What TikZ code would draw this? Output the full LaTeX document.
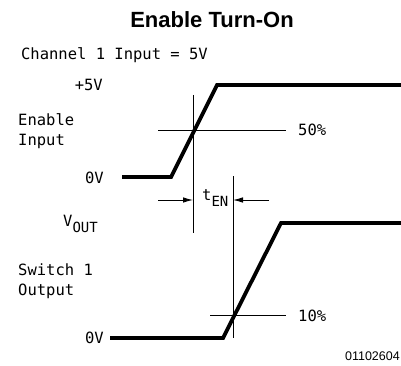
\documentclass[tikz,border=0pt]{standalone}
\usepackage{fontspec}
\usetikzlibrary{arrows.meta}
\newfontfamily\labf{DejaVu Sans Mono}
\newfontfamily\titf{Liberation Sans}
\newfontfamily\numf{Liberation Sans}
\begin{document}
\begin{tikzpicture}[x=1pt,y=-1pt,
  wave/.style={line width=3.8pt, line join=miter},
  guide/.style={line width=0.9pt},
  dimarrow/.style={line width=0.9pt, -{Latex[length=10pt,width=5.5pt]}},
  lab/.style={font=\labf\fontsize{15.5}{18}\selectfont, inner sep=0pt}]
\useasboundingbox (0,0) rectangle (401,366);
% title
\node[font=\titf\bfseries\fontsize{22}{25}\selectfont, inner sep=0pt, anchor=base] (title) at (212,28) {Enable Turn-On};
% labels
\node[lab, anchor=base east] (chan) at (208,60) {Channel 1 Input = 5V};
\node[lab, anchor=base east] (p5) at (103,91) {+5V};
\node[lab, anchor=base west] (en1) at (18,126) {Enable};
\node[lab, anchor=base west] (en2) at (18,146) {Input};
\node[lab, anchor=base east] (zv1) at (104,183) {0V};
\node[lab, anchor=base west] (vout) at (63,226) {V\raisebox{-6pt}{\fontsize{14}{16}\selectfont OUT}};
\node[lab, anchor=base west] (sw1) at (18,275) {Switch 1};
\node[lab, anchor=base west] (sw2) at (18,295) {Output};
\node[lab, anchor=base east] (zv2) at (104,343) {0V};
\node[lab, anchor=base west] (p50) at (298,136) {50\%};
\node[lab, anchor=base west] (p10) at (298,321) {10\%};
\node[lab, anchor=base west] (ten) at (202,200) {t\raisebox{-6pt}{\fontsize{14}{16}\selectfont EN}};
\node[font=\numf\fontsize{12.5}{14}\selectfont, inner sep=0pt, anchor=base east] (fig) at (400,360) {01102604};
% enable waveform
\coordinate (a0) at (122,177);
\coordinate (a1) at (171,177);
\coordinate (a2) at (217,85);
\coordinate (a3) at (402,85);
\draw[wave] (a0) -- (a1) -- (a2) -- (a3);
% output waveform
\coordinate (b0) at (110,338);
\coordinate (b1) at (223,338);
\coordinate (b2) at (281,223);
\coordinate (b3) at (402,223);
\draw[wave] (b0) -- (b1) -- (b2) -- (b3);
% guides
\coordinate (h50a) at (158,130);
\coordinate (h50b) at (286,130);
\draw[guide] (h50a) -- (h50b);
\coordinate (v1a) at (193,95);
\coordinate (v1b) at (193,233);
\draw[guide] (v1a) -- (v1b);
\coordinate (h10a) at (210,315);
\coordinate (h10b) at (286,315);
\draw[guide] (h10a) -- (h10b);
\coordinate (v2a) at (233,176);
\coordinate (v2b) at (233,338);
\draw[guide] (v2a) -- (v2b);
% tEN arrows
\coordinate (l0) at (158,200);
\coordinate (l1) at (193,200);
\coordinate (r0) at (269,200);
\coordinate (r1) at (233,200);
\draw[dimarrow] (l0) -- (l1);
\draw[dimarrow] (r0) -- (r1);
\end{tikzpicture}
\end{document}
